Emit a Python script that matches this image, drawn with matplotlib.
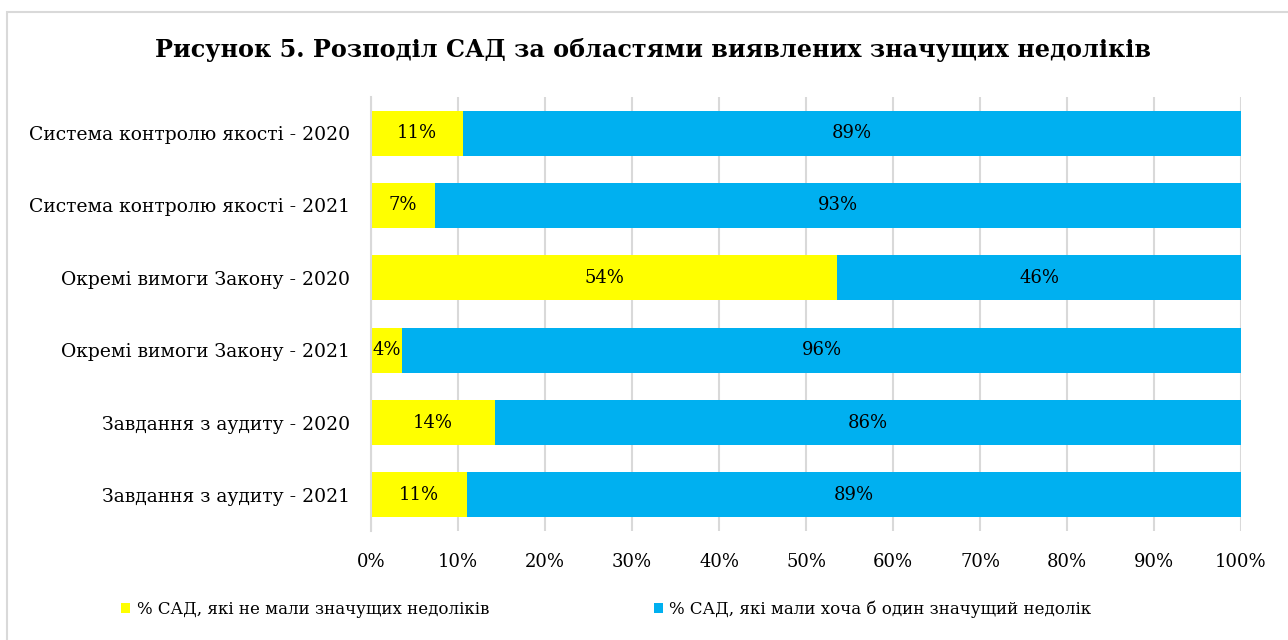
import matplotlib.pyplot as plt
import matplotlib.patches as mpatches
from matplotlib.ticker import PercentFormatter

# Дані (частка САД, %)
categories = [
    'Система контролю якості - 2020',
    'Система контролю якості - 2021',
    'Окремі вимоги Закону - 2020',
    'Окремі вимоги Закону - 2021',
    'Завдання з аудиту - 2020',
    'Завдання з аудиту - 2021',
]
no_defects = [10.6, 7.4, 53.6, 3.6, 14.3, 11.0]
with_defects = [89.4, 92.6, 46.4, 96.4, 85.7, 89.0]

label_no = '% САД, які не мали значущих недоліків'
label_yes = '% САД, які мали хоча б один значущий недолік'
title = 'Рисунок 5. Розподіл САД за областями виявлених значущих недоліків'

plt.rcParams['font.family'] = ['DejaVu Serif']
W, H = 1288, 640
fig = plt.figure(figsize=(W / 100, H / 100), dpi=100)
ax = fig.add_axes([371 / W, 1 - 531 / H, (1241 - 371) / W, (531 - 97) / H])

# рамка навколо діаграми
fig.patches.append(mpatches.Rectangle((7 / W, -0.1), 1.2, 1 - 12 / H + 0.1,
                                      transform=fig.transFigure, fill=False,
                                      edgecolor='#d9d9d9', linewidth=1.5))

y = range(len(categories))
b1 = ax.barh(y, no_defects, height=0.62, color='#FFFF00', label=label_no)
b2 = ax.barh(y, with_defects, left=no_defects, height=0.62, color='#00B0F0', label=label_yes)

ax.bar_label(b1, labels=[f'{round(v)}%' for v in no_defects], label_type='center', fontsize=13)
ax.bar_label(b2, labels=[f'{round(v)}%' for v in with_defects], label_type='center', fontsize=13)

ax.set_xlim(0, 100)
ax.set_ylim(-0.5, len(categories) - 0.5)
ax.invert_yaxis()
ax.set_yticks(list(y))
ax.set_yticklabels(categories, fontsize=13.5)
ax.set_xticks(range(0, 101, 10))
ax.xaxis.set_major_formatter(PercentFormatter(decimals=0))
ax.tick_params(axis='x', labelsize=13, length=0, pad=16)
ax.tick_params(axis='y', length=0, pad=15)
ax.grid(axis='x', color='#d9d9d9', linewidth=1.5)
ax.set_axisbelow(True)
for s in ['top', 'right', 'bottom']:
    ax.spines[s].set_visible(False)
ax.spines['left'].set_color('#d9d9d9')
ax.spines['left'].set_linewidth(1.5)

fig.text(653 / W, 1 - 50 / H, title, ha='center', va='center', fontsize=17.2, fontweight='bold')

fig.legend(loc='center left', bbox_to_anchor=(121 / W, 1 - 609 / H), ncol=2, frameon=False,
           fontsize=12, handlelength=0.55, handleheight=0.55, handletextpad=0.4,
           columnspacing=9.85, borderpad=0, borderaxespad=0)

plt.savefig('out.png', dpi=100)
